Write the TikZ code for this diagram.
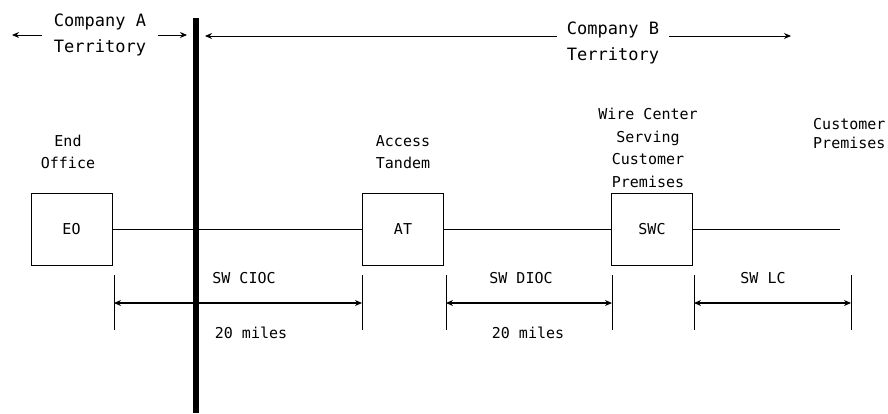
\documentclass[tikz,border=0pt]{standalone}
\usepackage{fontspec}
\usepackage{xcolor}
\usepackage{tikz}
\usetikzlibrary{arrows.meta}
\newfontfamily\diagfont{DejaVu Sans Mono}
\definecolor{bg}{HTML}{FFFFFF}
\definecolor{ink}{HTML}{000000}
\tikzset{
  base/.style={draw=ink, line width=0.9pt},
  border/.style={draw=ink, line width=6pt},
  office/.style={draw=ink, line width=0.9pt, minimum width=81pt, minimum height=72pt, inner sep=0pt, font=\diagfont\fontsize{15}{22}\selectfont},
  arr/.style={draw=ink, line width=0.9pt, -{Stealth[length=7pt,width=6pt]}},
  dim/.style={draw=ink, line width=1.1pt, {Stealth[length=7pt,width=6pt]}-{Stealth[length=7pt,width=6pt]}},
  lab/.style={text=ink, inner sep=0pt, align=center, font=\diagfont\fontsize{15}{22}\selectfont},
  head/.style={text=ink, inner ysep=0pt, align=left, font=\diagfont\fontsize{17}{26}\selectfont},
}

\begin{document}
\begin{tikzpicture}[x=1pt, y=-1pt]
  \fill[bg] (0,0) rectangle (888,413);
  \useasboundingbox (0,0) rectangle (888,413);

  % territories
  \draw[border] (196,18) -- (196,413);
  \node[head, inner xsep=12pt] (compA) at (100,35) {Company A\\Territory};
  \node[head, inner xsep=10pt] (compB) at (613,43) {Company B\\Territory};
  \coordinate (aleft) at (12,35);
  \coordinate (aright) at (187,35);
  \coordinate (bleft) at (205,36);
  \coordinate (bright) at (791,36);
  \draw[arr] (compA.west) -- (aleft);
  \draw[arr] (compA.east) -- (aright);
  \draw[arr] (compB.west |- bleft) -- (bleft);
  \draw[arr] (compB.east |- bright) -- (bright);

  % offices
  \node[office] (EO) at (71.5,229) {EO};
  \node[office] (AT) at (403,229) {AT};
  \node[office] (SWC) at (652,229) {SWC};
  \coordinate (cpend) at (840,229);
  \draw[base] (EO.east) -- (AT.west);
  \draw[base] (AT.east) -- (SWC.west);
  \draw[base] (SWC.east) -- (cpend);

  \node[lab, anchor=north] (eolab) at (68,135) {End\\Office};
  \node[lab, anchor=north] (atlab) at (403,135) {Access\\Tandem};
  \node[lab, anchor=north, font=\diagfont\fontsize{15}{22.5}\selectfont] (swclab) at (648,108) {Wire Center\\Serving\\Customer\\Premises};
  \node[lab, anchor=north west, align=left, font=\diagfont\fontsize{15}{19}\selectfont] (cplab) at (813,118) {Customer\\Premises};

  % distances
  \foreach \x in {114,362,446,612,694,851}
    \draw[base] (\x,275) -- (\x,330);
  \coordinate (c1) at (114,303);
  \coordinate (c2) at (362,303);
  \coordinate (c3) at (446,303);
  \coordinate (c4) at (612,303);
  \coordinate (c5) at (694,303);
  \coordinate (c6) at (851,303);
  \draw[dim] (c1) -- (c2);
  \draw[dim] (c3) -- (c4);
  \draw[dim] (c5) -- (c6);
  \node[lab] (cioc) at (244,278) {SW CIOC};
  \node[lab] (ciocmi) at (251,333) {20 miles};
  \node[lab] (dioc) at (521,278) {SW DIOC};
  \node[lab] (diocmi) at (528,333) {20 miles};
  \node[lab] (lc) at (763,278) {SW LC};
\end{tikzpicture}
\end{document}
